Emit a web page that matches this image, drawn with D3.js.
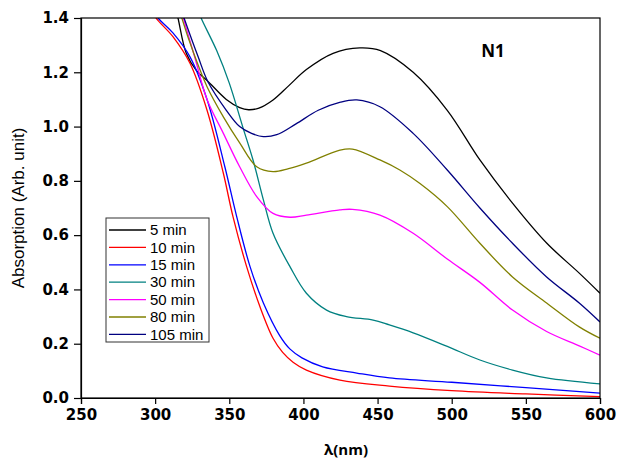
<!DOCTYPE html>
<html>
<head>
<meta charset="utf-8">
<script src="https://cdn.jsdelivr.net/npm/d3@7"></script>
<style>
  body { margin: 0; background: #fff; }
  svg { display: block; }
  .tick text { font-family: "DejaVu Sans", sans-serif; font-weight: bold; font-size: 15px; fill: #000; }
</style>
</head>
<body>
<div id="chart"></div>
<script>
// absorption spectra, [wavelength nm, absorbance]
var min5 = [[313,1.45],[315.4,1.40],[321,1.27],[328,1.205],[335,1.17],[348,1.10],[357,1.07],
  [363,1.062],[370,1.068],[379.5,1.098],[390,1.15],[402,1.21],[420,1.27],[438,1.29],[452,1.28],
  [474,1.20],[497,1.06],[519,0.877],[541,0.718],[564,0.571],[586,0.46],[600,0.386]];
var min10 = [[299,1.42],[300.6,1.40],[312,1.331],[323.5,1.233],[335,1.06],[346,0.828],[352.5,0.668],
  [361.7,0.484],[370.7,0.336],[379.5,0.22],[386,0.168],[393,0.132],[402,0.103],[424.6,0.066],
  [458,0.044],[500,0.027],[550,0.015],[600,0.005]];
var min15 = [[300,1.42],[302,1.40],[312,1.345],[323.5,1.257],[335,1.10],[347,0.852],[355,0.668],
  [364,0.484],[373,0.35],[384,0.23],[391,0.18],[399,0.148],[413,0.115],[436,0.092],[458,0.074],
  [500,0.058],[550,0.038],[600,0.018]];
var min30 = [[329,1.43],[331,1.40],[341.5,1.28],[350,1.16],[359,1.0],[366,0.877],[373,0.73],
  [379.5,0.607],[391,0.483],[402,0.386],[415.6,0.324],[429,0.30],[447,0.287],[458,0.269],
  [474,0.24],[497,0.19],[519,0.14],[541,0.103],[564,0.074],[600,0.052]];
var min50 = [[317,1.44],[319,1.40],[327,1.25],[335,1.10],[346,0.975],[357,0.852],[368.5,0.742],
  [379.5,0.68],[391,0.666],[402,0.674],[424.6,0.693],[433,0.695],[451.6,0.674],[474,0.607],
  [497,0.512],[519,0.426],[541,0.324],[564,0.245],[586,0.192],[600,0.158]];
var min80 = [[316,1.44],[318,1.40],[326,1.27],[335,1.147],[346,1.036],[357,0.94],[368.5,0.852],
  [379.5,0.834],[390,0.845],[402,0.865],[424.6,0.913],[433,0.917],[451.6,0.877],[465,0.84],
  [478.6,0.79],[497,0.705],[519,0.57],[541,0.446],[564,0.35],[586,0.262],[600,0.22]];
var min105 = [[317,1.44],[319.5,1.40],[329,1.257],[335.6,1.165],[348,1.06],[357,1.0],[365,0.975],
  [373,0.963],[382,0.97],[395,1.01],[410,1.06],[425,1.09],[436,1.098],[451.6,1.073],[474,0.975],
  [497,0.84],[519,0.70],[541,0.57],[564,0.446],[586,0.35],[600,0.28]];

var seriesNames = ['5 min', '10 min', '15 min', '30 min', '50 min', '80 min', '105 min'];
var seriesData = [min5, min10, min15, min30, min50, min80, min105];
var seriesColors = ['#000000', '#ff0000', '#0000ff', '#008080', '#ff00ff', '#808000', '#000080'];
var xTicks = [250, 300, 350, 400, 450, 500, 550, 600];
var yTicks = [0, 0.2, 0.4, 0.6, 0.8, 1.0, 1.2, 1.4];

var W = 617, H = 459;
var margin = {top: 18, right: 17, bottom: 61, left: 81};
var w = W - margin.left - margin.right,
    h = H - margin.top - margin.bottom;

var svg = d3.select('#chart').append('svg')
    .attr('width', W)
    .attr('height', H);

var x = d3.scaleLinear().domain([250, 600]).range([0, w]);
var y = d3.scaleLinear().domain([0, 1.4]).range([h, 0]);

var g = svg.append('g')
    .attr('transform', 'translate(' + margin.left + ',' + margin.top + ')');

g.append('defs').append('clipPath')
    .attr('id', 'plotclip')
  .append('rect')
    .attr('width', w)
    .attr('height', h);

var line = d3.line()
    .x(function(d) { return x(d[0]); })
    .y(function(d) { return y(d[1]); })
    .curve(d3.curveCatmullRom.alpha(0.5));

g.append('g')
    .attr('clip-path', 'url(#plotclip)')
  .selectAll('path')
    .data(seriesData)
  .enter().append('path')
    .attr('d', line)
    .attr('fill', 'none')
    .attr('stroke', function(d, i) { return seriesColors[i]; })
    .attr('stroke-width', 1.3);

// frame
g.append('rect')
    .attr('width', w)
    .attr('height', h)
    .attr('fill', 'none')
    .attr('stroke', '#000')
    .attr('stroke-width', 1.2);

var xAxis = g.append('g')
    .attr('transform', 'translate(0,' + h + ')')
    .call(d3.axisBottom(x).tickValues(xTicks).tickSize(6).tickPadding(5));
var yAxis = g.append('g')
    .call(d3.axisLeft(y).tickValues(yTicks).tickSize(7).tickPadding(5).tickFormat(d3.format('.1f')));
[xAxis, yAxis].forEach(function(a) {
  a.select('.domain').attr('stroke', '#000').attr('stroke-width', 1.2);
  a.selectAll('.tick line').attr('stroke', '#000').attr('stroke-width', 1.2);
});

svg.append('text')
    .attr('x', 346)
    .attr('y', 455)
    .attr('text-anchor', 'middle')
    .style('font-family', '"Open Sans", "Noto Sans", sans-serif')
    .style('font-weight', 'bold')
    .style('font-size', '15px')
    .text('λ(nm)');

svg.append('text')
    .attr('transform', 'translate(24,' + (margin.top + h / 2) + ') rotate(-90)')
    .attr('text-anchor', 'middle')
    .style('font-family', 'Arial, "Liberation Sans", sans-serif')
    .style('font-size', '17px')
    .text('Absorption (Arb. unit)');

svg.append('text')
    .attr('x', 493)
    .attr('y', 57)
    .attr('text-anchor', 'middle')
    .style('font-family', '"Open Sans", "Noto Sans", sans-serif')
    .style('font-weight', 'bold')
    .style('font-size', '17px')
    .text('N1');

// legend
var legend = svg.append('g').attr('transform', 'translate(106,218)');
legend.append('rect')
    .attr('width', 103)
    .attr('height', 124)
    .attr('fill', '#fff')
    .attr('stroke', '#333')
    .attr('stroke-width', 1);
var item = legend.selectAll('g.item')
    .data(seriesNames)
  .enter().append('g')
    .attr('class', 'item')
    .attr('transform', function(d, i) { return 'translate(0,' + (12 + i * 17.4) + ')'; });
item.append('line')
    .attr('x1', 3).attr('x2', 40)
    .attr('stroke', function(d, i) { return seriesColors[i]; })
    .attr('stroke-width', 1.3);
item.append('text')
    .attr('x', 44)
    .attr('dy', '0.35em')
    .style('font-family', 'Arial, "Liberation Sans", sans-serif')
    .style('font-size', '15px')
    .text(function(d) { return d; });
</script>
</body>
</html>
